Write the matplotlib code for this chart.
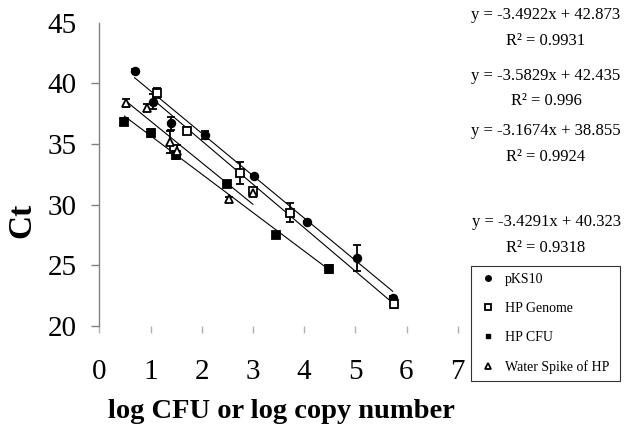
import matplotlib
matplotlib.use("Agg")
import matplotlib.pyplot as plt
from matplotlib.lines import Line2D
import numpy as np

# ---------------- data ----------------
series_names = ["pKS10", "HP Genome", "HP CFU", "Water Spike of HP"]

pks10_x = [0.69, 1.04, 1.41, 2.06, 3.03, 4.05, 5.04, 5.73]
pks10_y = [41.05, 38.5, 36.7, 35.75, 32.4, 28.55, 25.6, 22.3]
pks10_err = [0.1, 0.6, 0.55, 0.3, 0.1, 0.1, 1.05, 0.2]

genome_x = [1.12, 1.72, 2.75, 3.0, 3.72, 5.75]
genome_y = [39.2, 36.1, 32.6, 31.1, 29.35, 21.8]
genome_err = [0.4, 0.3, 0.9, 0.15, 0.75, 0.3]

cfu_x = [0.49, 1.01, 1.5, 2.5, 3.46, 4.49]
cfu_y = [36.85, 35.9, 34.1, 31.7, 27.5, 24.7]
cfu_err = [0.3, 0.3, 0.35, 0.2, 0.15, 0.3]

water_x = [0.52, 0.93, 1.39, 1.51, 2.53, 3.0]
water_y = [38.4, 38.0, 35.2, 34.45, 30.45, 31.0]
water_err = [0.35, 0.3, 0.9, 0.5, 0.2, 0.1]

slopes = [-3.4922, -3.5829, -3.1674, -3.4291]
intercepts = [42.873, 42.435, 38.855, 40.323]
r2_values = ["0.9931", "0.996", "0.9924", "0.9318"]

x_ticks = [0, 1, 2, 3, 4, 5, 6, 7]
y_ticks = [20, 25, 30, 35, 40, 45]

# ---------------- style ----------------
W, H = 624, 425
fig = plt.figure(figsize=(W / 100, H / 100), dpi=100)
plt.rcParams["font.family"] = ["Liberation Serif", "DejaVu Serif"]

def fx(px):
    return px / W

def fy(py):
    return 1 - py / H

ax_left, ax_right, ax_top, ax_bot = 99.3, 457.7, 22.7, 326.0
ax = fig.add_axes([fx(ax_left), fy(ax_bot), fx(ax_right - ax_left), (ax_bot - ax_top) / H])
ax.set_xlim(0, 7)
ax.set_ylim(20, 45)

series = [
    (pks10_x, pks10_y, pks10_err, "o", "black"),
    (genome_x, genome_y, genome_err, "s", "white"),
    (cfu_x, cfu_y, cfu_err, "s", "black"),
    (water_x, water_y, water_err, "^", "white"),
]

# regression lines over each series' x range
for (xs, ys, es, m, fc), k, b in zip(series, slopes, intercepts):
    xr = np.array([min(xs), max(xs)])
    ax.plot(xr, k * xr + b, color="black", lw=0.8, zorder=2)

for (xs, ys, es, m, fc) in series:
    ax.errorbar(xs, ys, yerr=es, fmt=m, ms=5.5 if m != "^" else 6,
                mfc=fc, mec="black", mew=1.3, color="black",
                ecolor="black", elinewidth=1.3, capsize=3.2, capthick=1.3,
                zorder=3)

for s in ["top", "right", "bottom"]:
    ax.spines[s].set_visible(False)
ax.spines["left"].set_color("#808080")
ax.spines["left"].set_linewidth(1.0)

ax.set_xticks(x_ticks)
ax.set_yticks(y_ticks)
ax.tick_params(axis="y", direction="out", length=5.8, width=1.0, color="#808080",
               pad=10.5, labelsize=21)
ax.tick_params(axis="x", direction="out", length=5.0, width=1.0, color="#b0b0b0",
               pad=19, labelsize=21)
ax.yaxis.get_major_ticks()[-1].tick1line.set_visible(False)

# axis titles
fig.text(fx(22), fy(220), "Ct", rotation=90, fontsize=24, fontweight="bold",
         ha="center", va="center")
fig.text(fx(281), fy(412), "log CFU or log copy number", fontsize=20.5,
         fontweight="bold", ha="center", va="center")

# equations
eq_y = [15, 76, 131, 222]
r2_y = [41, 101, 157, 248]
for k, b, r2, ey, ry in zip(slopes, intercepts, r2_values, eq_y, r2_y):
    fig.text(fx(546), fy(ey), f"y = {k:.4f}x + {b:.3f}", fontsize=12,
             ha="center", va="center")
    fig.text(fx(546), fy(ry), f"R\u00b2 = {r2}", fontsize=12,
             ha="center", va="center")

# legend
handles = [
    Line2D([], [], ls="none", marker="o", ms=4, mfc="black", mec="black"),
    Line2D([], [], ls="none", marker="s", ms=4, mfc="white", mec="black", mew=1.3),
    Line2D([], [], ls="none", marker="s", ms=3.5, mfc="black", mec="black"),
    Line2D([], [], ls="none", marker="^", ms=4.5, mfc="white", mec="black", mew=1.3),
]
lx0, ly0, lx1, ly1 = 470.7, 266, 620, 381.7
leg = fig.legend(handles, series_names, loc="upper left",
                 bbox_to_anchor=(fx(lx0), fy(ly0), fx(lx1 - lx0), 0),
                 mode="expand", fontsize=10, frameon=True, fancybox=False,
                 borderpad=0.5, labelspacing=1.15, handlelength=1.5,
                 handletextpad=0.45, borderaxespad=0)
leg.get_frame().set_edgecolor("black")
leg.get_frame().set_linewidth(0.8)

fig.savefig("out.png", dpi=100)
